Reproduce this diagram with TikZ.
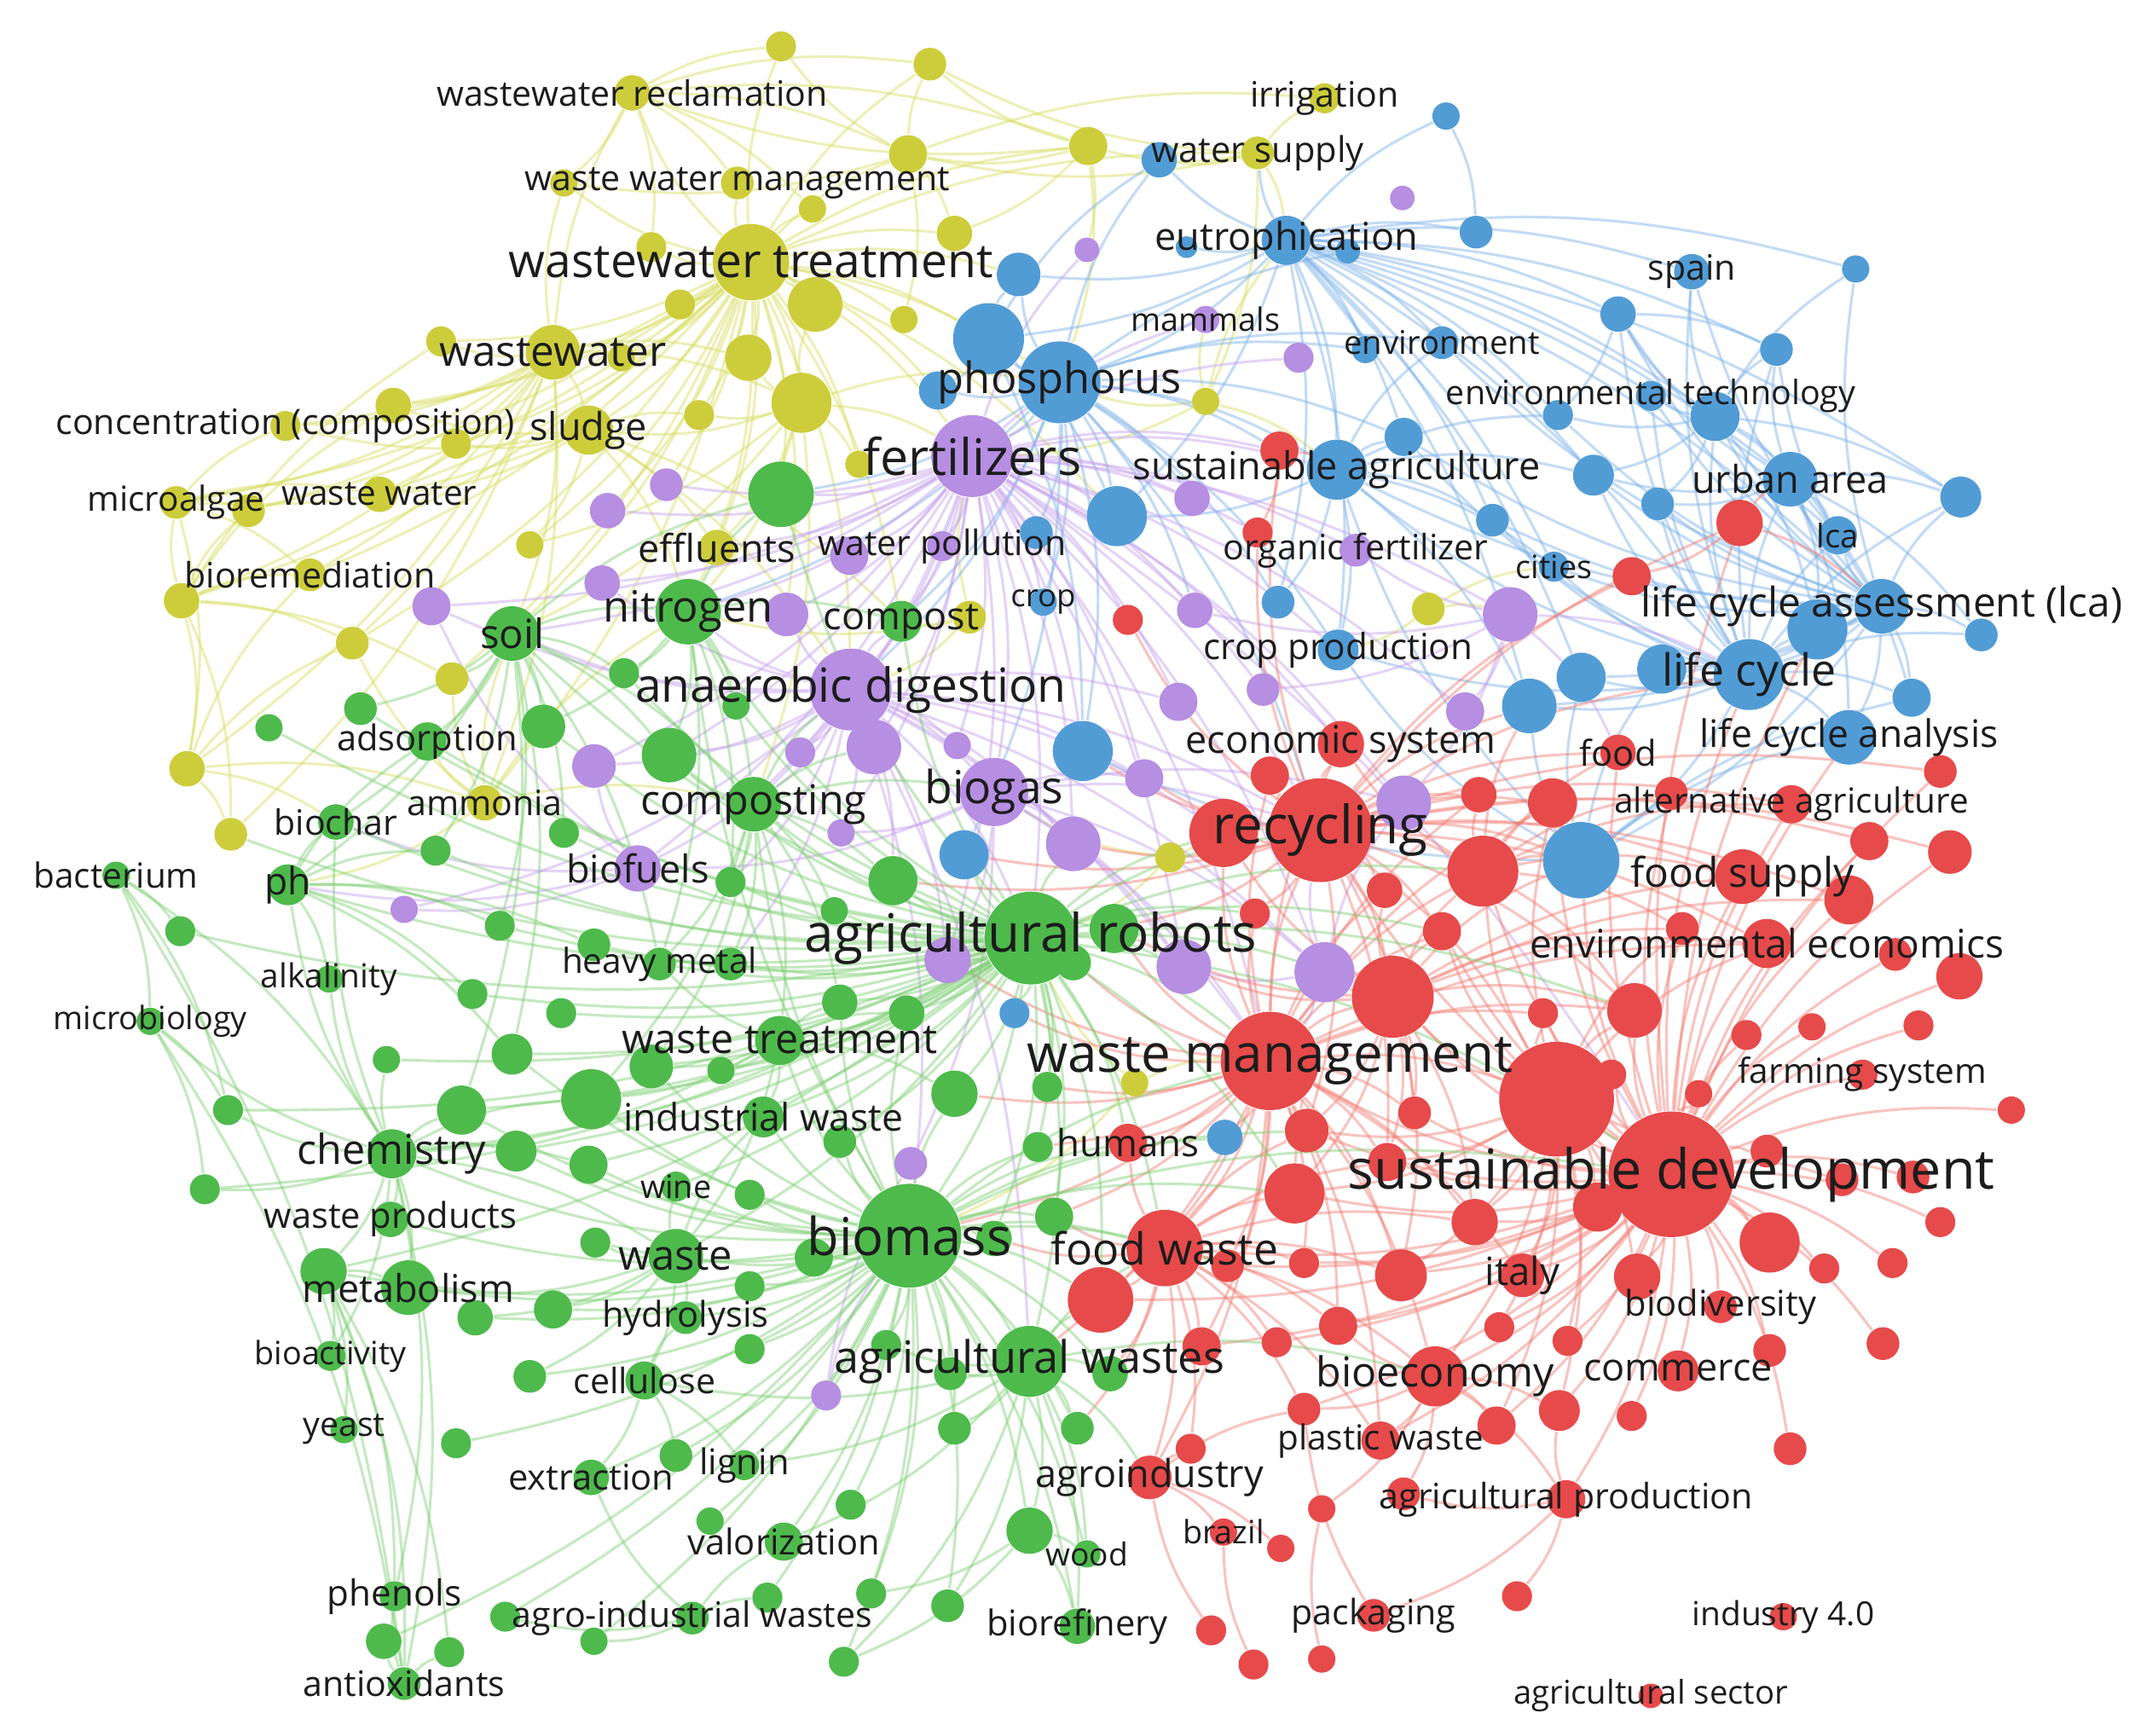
\documentclass[tikz,border=0pt]{standalone}
\usepackage{fontspec}
\setmainfont{Open Sans}
\usetikzlibrary{positioning}
\definecolor{ycol}{RGB}{205,205,60}
\definecolor{gcol}{RGB}{78,186,76}
\definecolor{bcol}{RGB}{82,156,214}
\definecolor{pcol}{RGB}{182,142,226}
\definecolor{rcol}{RGB}{231,74,74}
\definecolor{yedge}{RGB}{214,220,95}
\definecolor{gedge}{RGB}{125,206,115}
\definecolor{bedge}{RGB}{122,176,230}
\definecolor{pedge}{RGB}{196,160,236}
\definecolor{redge}{RGB}{240,122,112}
\definecolor{labcol}{RGB}{28,28,28}
\pgfdeclarelayer{edges}
\pgfdeclarelayer{labels}
\pgfsetlayers{edges,main,labels}
\tikzset{
yn/.style={circle, inner sep=0pt, fill=ycol, minimum size=#1*0.2mm}, % yellow cluster, #1 = radius
gn/.style={circle, inner sep=0pt, fill=gcol, minimum size=#1*0.2mm}, % green cluster
bn/.style={circle, inner sep=0pt, fill=bcol, minimum size=#1*0.2mm}, % blue cluster
pn/.style={circle, inner sep=0pt, fill=pcol, minimum size=#1*0.2mm}, % purple cluster
rn/.style={circle, inner sep=0pt, fill=rcol, minimum size=#1*0.2mm}, % red cluster
lab/.style={inner sep=0pt, text=labcol, font=\fontsize{#1}{#1}\selectfont}, % keyword text, #1 = size in pt
ye/.style={draw=yedge, line width=0.55pt, opacity=0.45, bend left=12}, % links
ge/.style={draw=gedge, line width=0.55pt, opacity=0.45, bend left=12},
be/.style={draw=bedge, line width=0.55pt, opacity=0.45, bend left=12},
pe/.style={draw=pedge, line width=0.55pt, opacity=0.45, bend left=12},
re/.style={draw=redge, line width=0.55pt, opacity=0.45, bend left=12},
}

\begin{document}
\begin{tikzpicture}
        \useasboundingbox (0,0) rectangle (15.68,-12.71);

        % yellow
        \node[yn=13] (wwrec) at (4.63,-0.68) {};
        \node[yn=12] (wwman) at (5.40,-1.34) {};
        \node[yn=28] (wwtr) at (5.50,-1.92) {};
        \node[yn=20] (ww) at (4.05,-2.58) {};
        \node[yn=11] (conc) at (2.09,-3.12) {};
        \node[yn=18] (sludge) at (4.31,-3.15) {};
        \node[yn=12] (micro) at (1.29,-3.68) {};
        \node[yn=13] (wwater) at (2.78,-3.62) {};
        \node[yn=12] (biorem) at (2.27,-4.21) {};
        \node[yn=13] (efflu) at (5.25,-4.01) {};
        \node[yn=13] (ammon) at (3.55,-5.88) {};
        \node[yn=11] (irrig) at (9.70,-0.72) {};
        \node[yn=12] (wsup) at (9.21,-1.12) {};
        \node[yn=11] (y1) at (5.72,-0.34) {};
        \node[yn=12] (y2) at (6.81,-0.47) {};
        \node[yn=10] (y3) at (4.13,-1.34) {};
        \node[yn=14] (y4) at (6.65,-1.13) {};
        \node[yn=14] (y5) at (7.97,-1.07) {};
        \node[yn=11] (y6) at (4.77,-1.81) {};
        \node[yn=10] (y7) at (5.95,-1.53) {};
        \node[yn=13] (y8) at (6.99,-1.71) {};
        \node[yn=11] (y9) at (4.98,-2.23) {};
        \node[yn=20] (y10) at (5.97,-2.23) {};
        \node[yn=10] (y11) at (6.62,-2.34) {};
        \node[yn=17] (y12) at (5.48,-2.62) {};
        \node[yn=22] (y13) at (5.87,-2.95) {};
        \node[yn=11] (y14) at (3.23,-2.50) {};
        \node[yn=10] (y15) at (4.55,-2.62) {};
        \node[yn=11] (y16) at (5.12,-3.04) {};
        \node[yn=13] (y17) at (2.88,-2.97) {};
        \node[yn=11] (y18) at (3.34,-3.25) {};
        \node[yn=12] (y19) at (1.82,-3.74) {};
        \node[yn=10] (y20) at (3.88,-3.99) {};
        \node[yn=10] (y21) at (6.29,-3.40) {};
        \node[yn=10] (y22) at (8.83,-2.94) {};
        \node[yn=13] (y23) at (1.33,-4.40) {};
        \node[yn=12] (y24) at (2.58,-4.71) {};
        \node[yn=12] (y25) at (3.31,-4.97) {};
        \node[yn=13] (y26) at (1.37,-5.63) {};
        \node[yn=12] (y27) at (1.69,-6.11) {};
        \node[yn=12] (y28) at (7.10,-4.52) {};
        \node[yn=11] (y29) at (8.57,-6.28) {};
        \node[yn=10] (y30) at (8.31,-7.93) {};
        \node[yn=12] (y31) at (10.46,-4.46) {};

        % green
        \node[gn=20] (soil) at (3.75,-4.64) {};
        \node[gn=24] (nitro) at (5.04,-4.48) {};
        \node[gn=15] (compost) at (6.60,-4.55) {};
        \node[gn=14] (adsorp) at (3.13,-5.43) {};
        \node[gn=13] (biochar) at (2.46,-6.02) {};
        \node[gn=20] (compo) at (5.52,-5.89) {};
        \node[gn=10] (bact) at (0.85,-6.41) {};
        \node[gn=15] (ph) at (2.11,-6.48) {};
        \node[gn=12] (heavy) at (4.83,-7.06) {};
        \node[gn=10] (alkal) at (2.41,-7.17) {};
        \node[gn=34] (agrob) at (7.55,-6.87) {};
        \node[gn=10] (microb) at (1.10,-7.48) {};
        \node[gn=18] (wtreat) at (5.71,-7.62) {};
        \node[gn=15] (indw) at (5.59,-8.18) {};
        \node[gn=18] (chem) at (2.87,-8.45) {};
        \node[gn=11] (wine) at (4.95,-8.69) {};
        \node[gn=13] (wprod) at (2.86,-8.93) {};
        \node[gn=20] (waste) at (4.95,-9.20) {};
        \node[gn=38] (biomass) at (6.66,-9.05) {};
        \node[gn=20] (metab) at (2.99,-9.43) {};
        \node[gn=12] (hydro) at (5.02,-9.65) {};
        \node[gn=11] (bioact) at (2.42,-9.93) {};
        \node[gn=14] (cellu) at (4.72,-10.11) {};
        \node[gn=26] (agwaste) at (7.54,-9.97) {};
        \node[gn=10] (yeast) at (2.52,-10.47) {};
        \node[gn=13] (extract) at (4.33,-10.82) {};
        \node[gn=11] (lignin) at (5.45,-10.73) {};
        \node[gn=14] (valor) at (5.74,-11.29) {};
        \node[gn=11] (phenols) at (2.89,-11.69) {};
        \node[gn=12] (agroind) at (5.07,-11.85) {};
        \node[gn=12] (antiox) at (2.96,-12.33) {};
        \node[gn=13] (biorefin) at (7.89,-11.91) {};
        \node[gn=10] (wood) at (7.96,-11.38) {};
        \node[gn=24] (g1) at (5.72,-3.62) {};
        \node[gn=11] (g2) at (4.57,-4.93) {};
        \node[gn=12] (g3) at (2.64,-5.19) {};
        \node[gn=10] (g4) at (1.97,-5.33) {};
        \node[gn=16] (g5) at (3.98,-5.32) {};
        \node[gn=20] (g6) at (4.90,-5.53) {};
        \node[gn=11] (g7) at (4.13,-6.10) {};
        \node[gn=11] (g8) at (3.19,-6.23) {};
        \node[gn=11] (g9) at (3.66,-6.78) {};
        \node[gn=11] (g10) at (1.32,-6.82) {};
        \node[gn=12] (g11) at (4.35,-6.92) {};
        \node[gn=11] (g12) at (3.46,-7.28) {};
        \node[gn=11] (g13) at (4.11,-7.42) {};
        \node[gn=10] (g14) at (2.83,-7.76) {};
        \node[gn=15] (g15) at (3.75,-7.72) {};
        \node[gn=16] (g16) at (4.77,-7.81) {};
        \node[gn=11] (g17) at (1.67,-8.13) {};
        \node[gn=18] (g18) at (3.38,-8.13) {};
        \node[gn=22] (g19) at (4.33,-8.05) {};
        \node[gn=15] (g20) at (3.78,-8.43) {};
        \node[gn=14] (g21) at (4.31,-8.53) {};
        \node[gn=10] (g22) at (5.39,-5.17) {};
        \node[gn=18] (g23) at (6.54,-6.45) {};
        \node[gn=11] (g24) at (5.35,-6.46) {};
        \node[gn=10] (g25) at (6.11,-6.67) {};
        \node[gn=18] (g26) at (8.16,-6.80) {};
        \node[gn=13] (g27) at (7.86,-7.05) {};
        \node[gn=12] (g28) at (5.35,-7.06) {};
        \node[gn=13] (g29) at (6.15,-7.34) {};
        \node[gn=13] (g30) at (6.64,-7.42) {};
        \node[gn=10] (g31) at (5.28,-7.84) {};
        \node[gn=17] (g32) at (6.99,-8.01) {};
        \node[gn=11] (g33) at (7.67,-7.96) {};
        \node[gn=12] (g34) at (6.15,-8.36) {};
        \node[gn=11] (g35) at (7.60,-8.40) {};
        \node[gn=11] (g36) at (1.50,-8.71) {};
        \node[gn=11] (g37) at (4.36,-9.10) {};
        \node[gn=17] (g38) at (2.37,-9.31) {};
        \node[gn=13] (g39) at (3.48,-9.65) {};
        \node[gn=14] (g40) at (4.05,-9.59) {};
        \node[gn=12] (g41) at (3.88,-10.08) {};
        \node[gn=11] (g42) at (3.34,-10.57) {};
        \node[gn=12] (g43) at (4.95,-10.66) {};
        \node[gn=10] (g44) at (5.20,-11.14) {};
        \node[gn=11] (g45) at (3.70,-11.84) {};
        \node[gn=10] (g46) at (4.35,-12.02) {};
        \node[gn=13] (g47) at (2.81,-12.02) {};
        \node[gn=11] (g48) at (3.29,-12.10) {};
        \node[gn=11] (g49) at (5.49,-8.75) {};
        \node[gn=14] (g50) at (5.96,-9.21) {};
        \node[gn=14] (g51) at (7.72,-8.91) {};
        \node[gn=13] (g52) at (7.28,-9.07) {};
        \node[gn=11] (g53) at (5.49,-9.42) {};
        \node[gn=11] (g54) at (5.49,-9.88) {};
        \node[gn=11] (g55) at (6.49,-9.85) {};
        \node[gn=12] (g56) at (6.96,-10.06) {};
        \node[gn=13] (g57) at (8.13,-10.06) {};
        \node[gn=12] (g58) at (6.99,-10.46) {};
        \node[gn=12] (g59) at (7.89,-10.46) {};
        \node[gn=11] (g60) at (6.23,-11.02) {};
        \node[gn=17] (g61) at (7.54,-11.21) {};
        \node[gn=11] (g62) at (5.62,-11.70) {};
        \node[gn=11] (g63) at (6.38,-11.67) {};
        \node[gn=12] (g64) at (6.94,-11.76) {};
        \node[gn=11] (g65) at (6.18,-12.17) {};

        % purple
        \node[pn=30] (fert) at (7.12,-3.34) {};
        \node[pn=11] (wpoll) at (6.90,-4.00) {};
        \node[pn=30] (anaer) at (6.23,-5.05) {};
        \node[pn=25] (biogas) at (7.28,-5.80) {};
        \node[pn=17] (biofuel) at (4.67,-6.36) {};
        \node[pn=10] (mammals) at (8.83,-2.34) {};
        \node[pn=12] (orgfert) at (9.93,-4.03) {};
        \node[pn=9] (p1) at (10.27,-1.45) {};
        \node[pn=9] (p2) at (7.96,-1.83) {};
        \node[pn=11] (p3) at (9.51,-2.62) {};
        \node[pn=13] (p4) at (8.73,-3.65) {};
        \node[pn=12] (p5) at (4.88,-3.55) {};
        \node[pn=13] (p6) at (4.45,-3.74) {};
        \node[pn=13] (p7) at (4.41,-4.27) {};
        \node[pn=14] (p8) at (3.16,-4.44) {};
        \node[pn=16] (p9) at (4.35,-5.61) {};
        \node[pn=10] (p10) at (2.96,-6.66) {};
        \node[pn=16] (p11) at (5.76,-4.50) {};
        \node[pn=13] (p12) at (8.75,-4.47) {};
        \node[pn=14] (p13) at (8.63,-5.14) {};
        \node[pn=12] (p14) at (9.25,-5.05) {};
        \node[pn=20] (p15) at (6.40,-5.47) {};
        \node[pn=11] (p16) at (5.86,-5.51) {};
        \node[pn=10] (p17) at (7.01,-5.46) {};
        \node[pn=14] (p18) at (8.38,-5.70) {};
        \node[pn=10] (p19) at (6.16,-6.10) {};
        \node[pn=20] (p20) at (7.86,-6.18) {};
        \node[pn=20] (p21) at (10.28,-5.88) {};
        \node[pn=17] (p22) at (6.94,-7.03) {};
        \node[pn=20] (p23) at (8.67,-7.08) {};
        \node[pn=22] (p24) at (9.70,-7.12) {};
        \node[pn=12] (p25) at (6.67,-8.52) {};
        \node[pn=11] (p26) at (6.05,-10.22) {};
        \node[pn=20] (p27) at (11.06,-4.50) {};
        \node[pn=14] (p28) at (10.73,-5.21) {};
        \node[pn=14] (p29) at (6.22,-4.07) {};

        % blue
        \node[bn=18] (eutro) at (9.42,-1.76) {};
        \node[bn=30] (phos) at (7.76,-2.80) {};
        \node[bn=12] (envir) at (10.56,-2.51) {};
        \node[bn=13] (spain) at (12.39,-1.99) {};
        \node[bn=11] (envtech) at (12.09,-2.90) {};
        \node[bn=22] (sustag) at (9.79,-3.44) {};
        \node[bn=20] (urban) at (13.11,-3.51) {};
        \node[bn=14] (lca) at (13.46,-3.92) {};
        \node[bn=11] (cities) at (11.38,-4.15) {};
        \node[bn=20] (lcaa) at (13.78,-4.44) {};
        \node[bn=10] (crop) at (7.64,-4.41) {};
        \node[bn=15] (cropprod) at (9.80,-4.76) {};
        \node[bn=26] (lifec) at (12.81,-4.94) {};
        \node[bn=20] (lcan) at (13.54,-5.40) {};
        \node[bn=10] (b1) at (10.59,-0.85) {};
        \node[bn=13] (b2) at (8.49,-1.17) {};
        \node[bn=12] (b3) at (10.81,-1.70) {};
        \node[bn=16] (b4) at (7.46,-2.01) {};
        \node[bn=8] (b5) at (8.69,-1.81) {};
        \node[bn=9] (b6) at (9.87,-1.84) {};
        \node[bn=26] (b7) at (7.24,-2.48) {};
        \node[bn=14] (b8) at (6.87,-2.86) {};
        \node[bn=22] (b9) at (8.18,-3.78) {};
        \node[bn=14] (b10) at (10.28,-3.20) {};
        \node[bn=12] (b11) at (7.59,-3.90) {};
        \node[bn=10] (b12) at (13.59,-1.97) {};
        \node[bn=13] (b13) at (11.85,-2.30) {};
        \node[bn=12] (b14) at (13.01,-2.56) {};
        \node[bn=11] (b15) at (11.41,-3.04) {};
        \node[bn=18] (b16) at (12.56,-3.05) {};
        \node[bn=15] (b17) at (11.67,-3.48) {};
        \node[bn=12] (b18) at (12.14,-3.69) {};
        \node[bn=15] (b19) at (14.36,-3.64) {};
        \node[bn=12] (b20) at (10.93,-3.81) {};
        \node[bn=12] (b21) at (9.36,-4.41) {};
        \node[bn=22] (b22) at (13.31,-4.61) {};
        \node[bn=12] (b23) at (14.51,-4.65) {};
        \node[bn=18] (b24) at (12.17,-4.90) {};
        \node[bn=18] (b25) at (11.58,-4.96) {};
        \node[bn=20] (b26) at (11.20,-5.17) {};
        \node[bn=14] (b27) at (14.00,-5.11) {};
        \node[bn=22] (b28) at (7.93,-5.50) {};
        \node[bn=18] (b29) at (7.06,-6.26) {};
        \node[bn=28] (b30) at (11.58,-6.30) {};
        \node[bn=11] (b31) at (7.43,-7.42) {};
        \node[bn=13] (b32) at (8.97,-8.33) {};
        \node[bn=10] (b33) at (10.00,-2.56) {};

        % red
        \node[rn=38] (recyc) at (9.67,-6.08) {};
        \node[rn=17] (econsys) at (9.82,-5.45) {};
        \node[rn=13] (food) at (11.85,-5.51) {};
        \node[rn=14] (altag) at (13.12,-5.89) {};
        \node[rn=20] (foodsup) at (12.76,-6.42) {};
        \node[rn=18] (enveco) at (12.94,-6.91) {};
        \node[rn=36] (wasteman) at (9.30,-7.77) {};
        \node[rn=11] (farmsys) at (13.64,-7.87) {};
        \node[rn=14] (humans) at (8.26,-8.37) {};
        \node[rn=46] (susdev) at (12.24,-8.60) {};
        \node[rn=28] (foodw) at (8.53,-9.14) {};
        \node[rn=16] (italy) at (11.15,-9.34) {};
        \node[rn=12] (biodiv) at (12.60,-9.57) {};
        \node[rn=22] (bioeco) at (10.51,-10.08) {};
        \node[rn=15] (commerce) at (12.29,-10.04) {};
        \node[rn=14] (plastic) at (10.11,-10.55) {};
        \node[rn=16] (agroindu) at (8.42,-10.82) {};
        \node[rn=14] (agprod) at (11.47,-10.98) {};
        \node[rn=10] (brazil) at (8.96,-11.22) {};
        \node[rn=12] (packag) at (10.06,-11.83) {};
        \node[rn=10] (ind40) at (13.06,-11.84) {};
        \node[rn=9] (agsect) at (12.09,-12.42) {};
        \node[rn=14] (r1) at (9.37,-3.30) {};
        \node[rn=11] (r2) at (9.21,-3.90) {};
        \node[rn=11] (r3) at (8.26,-4.54) {};
        \node[rn=17] (r4) at (12.74,-3.83) {};
        \node[rn=14] (r5) at (11.95,-4.22) {};
        \node[rn=14] (r6) at (9.30,-5.68) {};
        \node[rn=25] (r7) at (8.96,-6.10) {};
        \node[rn=13] (r8) at (10.14,-6.52) {};
        \node[rn=11] (r9) at (9.19,-6.69) {};
        \node[rn=30] (r10) at (10.20,-7.30) {};
        \node[rn=16] (r11) at (9.57,-8.28) {};
        \node[rn=12] (r12) at (10.36,-8.15) {};
        \node[rn=14] (r13) at (10.16,-8.51) {};
        \node[rn=12] (r14) at (14.21,-5.65) {};
        \node[rn=13] (r15) at (10.83,-5.82) {};
        \node[rn=18] (r16) at (11.37,-5.88) {};
        \node[rn=12] (r17) at (12.24,-5.81) {};
        \node[rn=14] (r18) at (13.69,-6.16) {};
        \node[rn=16] (r19) at (14.28,-6.24) {};
        \node[rn=26] (r20) at (10.86,-6.38) {};
        \node[rn=18] (r21) at (13.54,-6.59) {};
        \node[rn=14] (r22) at (10.56,-6.82) {};
        \node[rn=12] (r23) at (12.32,-6.80) {};
        \node[rn=12] (r24) at (13.88,-6.99) {};
        \node[rn=17] (r25) at (14.35,-7.15) {};
        \node[rn=20] (r26) at (11.97,-7.40) {};
        \node[rn=11] (r27) at (11.30,-7.42) {};
        \node[rn=11] (r28) at (12.79,-7.58) {};
        \node[rn=10] (r29) at (13.27,-7.52) {};
        \node[rn=11] (r30) at (14.05,-7.51) {};
        \node[rn=11] (r31) at (11.80,-7.87) {};
        \node[rn=10] (r32) at (12.44,-8.01) {};
        \node[rn=10] (r33) at (14.73,-8.13) {};
        \node[rn=42] (r34) at (11.40,-8.05) {};
        \node[rn=12] (r35) at (12.94,-8.43) {};
        \node[rn=17] (r36) at (10.80,-8.95) {};
        \node[rn=18] (r37) at (11.70,-8.84) {};
        \node[rn=22] (r38) at (12.96,-9.10) {};
        \node[rn=12] (r39) at (13.49,-8.64) {};
        \node[rn=12] (r40) at (14.01,-8.62) {};
        \node[rn=11] (r41) at (14.21,-8.95) {};
        \node[rn=17] (r42) at (11.99,-9.35) {};
        \node[rn=11] (r43) at (13.36,-9.29) {};
        \node[rn=11] (r44) at (13.86,-9.25) {};
        \node[rn=11] (r45) at (10.98,-9.72) {};
        \node[rn=11] (r46) at (11.48,-9.82) {};
        \node[rn=12] (r47) at (12.96,-9.89) {};
        \node[rn=12] (r48) at (13.79,-9.84) {};
        \node[rn=14] (r49) at (10.96,-10.44) {};
        \node[rn=15] (r50) at (11.42,-10.33) {};
        \node[rn=11] (r51) at (11.95,-10.37) {};
        \node[rn=12] (r52) at (13.11,-10.61) {};
        \node[rn=11] (r53) at (11.11,-11.69) {};
        \node[rn=24] (r54) at (8.06,-9.52) {};
        \node[rn=22] (r55) at (9.48,-8.74) {};
        \node[rn=12] (r56) at (8.99,-9.27) {};
        \node[rn=11] (r57) at (9.55,-9.25) {};
        \node[rn=19] (r58) at (10.26,-9.34) {};
        \node[rn=14] (r59) at (8.80,-9.86) {};
        \node[rn=11] (r60) at (9.35,-9.83) {};
        \node[rn=14] (r61) at (9.80,-9.71) {};
        \node[rn=12] (r62) at (9.55,-10.32) {};
        \node[rn=11] (r63) at (8.72,-10.61) {};
        \node[rn=10] (r64) at (9.68,-11.05) {};
        \node[rn=12] (r65) at (10.28,-10.94) {};
        \node[rn=10] (r66) at (9.38,-11.34) {};
        \node[rn=11] (r67) at (8.87,-11.94) {};
        \node[rn=11] (r68) at (9.18,-12.19) {};
        \node[rn=10] (r69) at (9.68,-12.15) {};

        \begin{pgfonlayer}{edges}
        \draw[ye] (wwtr) edge (y1) edge (y2) edge (y3) edge (y4) edge (y6) edge (y7) edge (y8) edge (y9) edge (y10) edge (y11) edge (y12) edge (y13) edge (y14) edge (y15) edge (y16) edge (y17) edge (y18) edge (y19) edge (y20) edge (y21) edge (wwrec) edge (wwman) edge (ww) edge (sludge) edge (conc) edge (micro) edge (wwater) edge (biorem) edge (efflu) edge (y23) edge (y24) edge (y25) edge (ammon) edge (y5) edge (wsup) edge (phos) edge (fert) edge (nitro) edge (soil) edge (g1) edge (b7) edge (b4);
        \draw[ye] (wwtr) edge (anaer) edge (compost) edge (p5) edge (p6) edge (p11) edge (b8) edge (b9);
        \draw[ye] (ww) edge (micro) edge (conc) edge (wwater) edge (biorem) edge (y23) edge (y24) edge (y26) edge (y27) edge (y17) edge (y14) edge (sludge) edge (y3) edge (wwrec) edge (y12) edge (y13) edge (y19) edge (ammon) edge (soil);
        \draw[ye] (wwrec) edge (y1) edge (y2) edge (y3) edge (y4) edge (y6) edge (wwman) edge (y5) edge (y7);
        \draw[ye] (y13) edge (y10) edge (y12) edge (sludge) edge (efflu) edge (y16) edge (y20) edge (y21) edge (fert) edge (phos) edge (nitro) edge (compo) edge (soil);
        \draw[ye] (sludge) edge (conc) edge (wwater) edge (y18) edge (y20) edge (y16) edge (efflu) edge (nitro) edge (anaer) edge (compost) edge (micro) edge (y17);
        \draw[ye] (y23) edge (y26) edge (y27) edge (micro) edge (biorem) edge (y19) edge (y24) edge (y25) edge (y14) edge (y17);
        \draw[ye] (micro) edge (y19) edge (biorem) edge (wwater) edge (y26) edge (conc);
        \draw[ye] (y26) edge (y27) edge (biochar) edge (ammon) edge (y24) edge (biorem);
        \draw[ye] (wsup) edge (irrig) edge (y5) edge (b2) edge (eutro) edge (y22) edge (y4) edge (y2);
        \draw[ye] (y5) edge (y2) edge (y4) edge (wwrec) edge (y8) edge (p2) edge (phos);
        \draw[ye] (y4) edge (y2) edge (y1) edge (y8) edge (y11) edge (y3) edge (irrig);
        \draw[ye] (y22) edge (eutro) edge (phos) edge (sustag) edge (fert) edge (mammals);
        \draw[ye] (ammon) edge (y25) edge (y24) edge (soil) edge (nitro) edge (compo) edge (adsorp) edge (ph);
        \draw[ye] (y28) edge (compost) edge (anaer) edge (nitro) edge (fert);
        \draw[ye] (y31) edge (cities) edge (cropprod) edge (p27);
        \draw[ye] (y29) edge (recyc) edge (biogas) edge (agrob);
        \draw[ye] (y30) edge (wasteman) edge (agrob) edge (biomass);

        \draw[be] (eutro) edge (b1) edge (b2) edge (b3) edge (b5) edge (b6) edge (b4) edge (phos) edge (b7) edge (envir) edge (b33) edge (b13) edge (b15) edge (b10) edge (sustag) edge (lcaa) edge (lifec) edge (urban) edge (b16) edge (spain) edge (b12) edge (b14) edge (b17) edge (b20) edge (cities) edge (b9) edge (b21) edge (cropprod) edge (lca) edge (b19) edge (b25) edge (b26) edge (wsup);
        \draw[be] (lcaa) edge (spain) edge (b12) edge (b13) edge (b14) edge (envtech) edge (b16) edge (b17) edge (b18) edge (b19) edge (urban) edge (lca) edge (b23) edge (b24) edge (b25) edge (b26) edge (b27) edge (lcan) edge (cities) edge (b20) edge (b15) edge (b10) edge (sustag) edge (b22) edge (lifec) edge (b30) edge (envir);
        \draw[be] (lifec) edge (spain) edge (b13) edge (b14) edge (envtech) edge (b16) edge (b17) edge (b18) edge (urban) edge (lca) edge (b22) edge (b24) edge (b25) edge (b26) edge (b27) edge (lcan) edge (cities) edge (b20) edge (b30) edge (sustag) edge (cropprod) edge (b10) edge (b19) edge (b23);
        \draw[be] (b16) edge (spain) edge (b13) edge (b14) edge (b15) edge (envtech) edge (b17) edge (b18) edge (urban) edge (b19) edge (b22) edge (lca) edge (b12);
        \draw[be] (urban) edge (b14) edge (b19) edge (lca) edge (b22) edge (b27) edge (lcan) edge (b23) edge (b13) edge (b17) edge (b18);
        \draw[be] (phos) edge (b7) edge (b4) edge (b8) edge (b9) edge (b2) edge (sustag) edge (b28) edge (b29) edge (cropprod) edge (b21) edge (b11) edge (b10) edge (crop) edge (envir) edge (b33) edge (b6);
        \draw[be] (phos) edge (fert) edge (nitro) edge (anaer) edge (compost) edge (g1) edge (recyc) edge (r1) edge (p4) edge (p12);
        \draw[be] (b30) edge (lcan) edge (b26) edge (b25) edge (b24) edge (b27) edge (b28) edge (sustag) edge (cropprod);
        \draw[be] (sustag) edge (b10) edge (b9) edge (b21) edge (cropprod) edge (b20) edge (cities) edge (b15) edge (b17) edge (b26) edge (envir);
        \draw[be] (b7) edge (b4) edge (b8) edge (b9) edge (b28) edge (b2);
        \draw[be] (b1) edge (b3);
        \draw[be] (b13) edge (b15) edge (b14);

        \draw[pe] (fert) edge (anaer) edge (biogas) edge (p5) edge (p6) edge (p7) edge (p8) edge (p11) edge (p15) edge (p16) edge (p17) edge (p29) edge (wpoll) edge (efflu) edge (nitro) edge (compost) edge (orgfert) edge (mammals) edge (p2) edge (p3) edge (p4) edge (p12) edge (p13) edge (p14) edge (p18) edge (p20) edge (p23) edge (p24) edge (p27) edge (p28) edge (p21) edge (recyc) edge (susdev) edge (soil) edge (biofuel) edge (p9) edge (crop) edge (cropprod) edge (sustag);
        \draw[pe] (fert) edge (g1) edge (g6) edge (compo) edge (agrob) edge (wasteman) edge (r1) edge (r2) edge (r3) edge (econsys) edge (b9) edge (b28) edge (p19) edge (p22);
        \draw[pe] (anaer) edge (biogas) edge (p11) edge (p15) edge (p16) edge (p17) edge (p19) edge (p20) edge (compo) edge (biofuel) edge (nitro) edge (p9) edge (p7) edge (p22) edge (p13) edge (p18) edge (p23) edge (p24) edge (recyc) edge (agrob) edge (compost) edge (soil) edge (p8) edge (p10);
        \draw[pe] (anaer) edge (g6) edge (g23) edge (agwaste) edge (biomass) edge (wasteman) edge (r7) edge (g24) edge (g28);
        \draw[pe] (biogas) edge (p20) edge (p22) edge (p23) edge (p19) edge (p18) edge (biofuel) edge (p24) edge (p21) edge (recyc) edge (wasteman) edge (p25);
        \draw[pe] (biofuel) edge (p10) edge (p9) edge (p8) edge (ph) edge (biochar);
        \draw[pe] (p27) edge (p28) edge (p21) edge (orgfert) edge (p12) edge (p14) edge (lifec) edge (food);
        \draw[pe] (p24) edge (p21) edge (p23) edge (recyc) edge (wasteman);
        \draw[pe] (p26) edge (biomass) edge (p25);

        \draw[re] (susdev) edge (r34) edge (r10) edge (wasteman) edge (recyc) edge (r20) edge (r26) edge (r27) edge (r28) edge (r29) edge (r30) edge (r31) edge (r32) edge (r33) edge (r35) edge (r36) edge (r37) edge (r38) edge (r39) edge (r40) edge (r41) edge (r42) edge (r43) edge (r44) edge (r45) edge (r46) edge (r47) edge (r48) edge (r49) edge (r50) edge (r51) edge (r52) edge (italy) edge (biodiv) edge (bioeco) edge (commerce) edge (agprod) edge (plastic) edge (enveco) edge (foodsup) edge (farmsys) edge (r21) edge (r23) edge (r24) edge (r25) edge (r19) edge (r18) edge (foodw) edge (r55) edge (r58) edge (r13) edge (r12) edge (r11) edge (food) edge (altag) edge (r16) edge (r22);
        \draw[re] (susdev) edge (b30) edge (lcan) edge (lifec) edge (b22) edge (r54) edge (r56) edge (r57) edge (r59) edge (r60) edge (r61) edge (r62) edge (r14) edge (r17) edge (r4);
        \draw[re] (wasteman) edge (r10) edge (r11) edge (r12) edge (r13) edge (r7) edge (r8) edge (r9) edge (recyc) edge (foodw) edge (r54) edge (r55) edge (r56) edge (r57) edge (r58) edge (humans) edge (r20) edge (r22) edge (bioeco) edge (r34) edge (r26) edge (r36) edge (r59) edge (r61) edge (plastic) edge (agroindu) edge (italy) edge (r27) edge (enveco);
        \draw[re] (wasteman) edge (g26) edge (g27) edge (g32) edge (g33) edge (g35) edge (g51) edge (biomass) edge (agwaste) edge (p22) edge (b31) edge (b32) edge (r6) edge (econsys) edge (r15) edge (r16);
        \draw[re] (recyc) edge (r6) edge (r7) edge (r8) edge (r9) edge (r10) edge (econsys) edge (r15) edge (r16) edge (r20) edge (r22) edge (food) edge (altag) edge (foodsup) edge (enveco) edge (r1) edge (r2) edge (r3) edge (r5) edge (r4) edge (r34) edge (r21) edge (r19) edge (r18) edge (r14);
        \draw[re] (recyc) edge (p18) edge (p20) edge (b28) edge (b29) edge (g26) edge (g23) edge (r11) edge (r12) edge (r13) edge (r26) edge (b30) edge (b26) edge (lifec);
        \draw[re] (r10) edge (r7) edge (r8) edge (r20) edge (r22) edge (r26) edge (r11) edge (r12) edge (r13) edge (r36) edge (r55) edge (r58) edge (enveco) edge (foodsup) edge (r21) edge (r23) edge (b30) edge (g26) edge (p24) edge (p23);
        \draw[re] (r20) edge (r15) edge (r16) edge (food) edge (altag) edge (r17) edge (r23) edge (foodsup) edge (b30) edge (b26) edge (r26) edge (econsys);
        \draw[re] (r34) edge (r20) edge (r26) edge (r27) edge (r16) edge (r31) edge (r36) edge (r37) edge (r45) edge (r46) edge (r49) edge (r50) edge (bioeco) edge (italy) edge (r10) edge (r22) edge (r55) edge (r58) edge (r11) edge (r13) edge (r38) edge (r42) edge (enveco) edge (r23);
        \draw[re] (foodw) edge (r54) edge (r55) edge (r56) edge (r57) edge (r59) edge (r60) edge (r61) edge (r62) edge (r63) edge (agroindu) edge (humans) edge (r11) edge (g51) edge (g52) edge (g57) edge (g59) edge (r58) edge (r36) edge (r13) edge (bioeco) edge (plastic);
        \draw[re] (bioeco) edge (r61) edge (r62) edge (r64) edge (r65) edge (plastic) edge (agprod) edge (r49) edge (r50);
        \draw[re] (agprod) edge (r50) edge (r53) edge (packag) edge (r65);
        \draw[re] (packag) edge (r62);
        \draw[re] (agroindu) edge (r63) edge (brazil) edge (r66) edge (r62);
        \draw[re] (r67) edge (agroindu);
        \draw[re] (r68) edge (brazil);
        \draw[re] (r69) edge (r64);
        \draw[re] (r4) edge (r5) edge (urban) edge (lcaa);
        \draw[re] (r1) edge (sustag) edge (r2);

        \draw[ge] (agrob) edge (biomass) edge (agwaste) edge (compo) edge (nitro) edge (soil) edge (g1) edge (g6) edge (g23) edge (g24) edge (g25) edge (g26) edge (g27) edge (g28) edge (g29) edge (g30) edge (g31) edge (g32) edge (g33) edge (g34) edge (g35) edge (wtreat) edge (indw) edge (heavy) edge (compost) edge (g5) edge (g9) edge (g11) edge (g12) edge (g13) edge (g15) edge (g16) edge (g18) edge (g19) edge (g20) edge (g21) edge (chem) edge (waste) edge (wine) edge (g8) edge (g7) edge (adsorp) edge (biochar) edge (ph) edge (g3) edge (g2) edge (g22) edge (recyc) edge (wasteman) edge (susdev) edge (r10) edge (foodw) edge (g51) edge (g52);
        \draw[ge] (agrob) edge (r7) edge (r9) edge (r20) edge (r22) edge (r26) edge (r54) edge (p22) edge (p23) edge (p20) edge (b29) edge (b31) edge (g36) edge (g38) edge (g17) edge (g14) edge (g10) edge (g4) edge (y27) edge (humans) edge (r55);
        \draw[ge] (biomass) edge (agwaste) edge (g49) edge (g50) edge (g51) edge (g52) edge (g53) edge (g54) edge (g55) edge (g56) edge (g57) edge (g58) edge (g59) edge (waste) edge (wine) edge (hydro) edge (cellu) edge (lignin) edge (valor) edge (extract) edge (indw) edge (wtreat) edge (g16) edge (g19) edge (g21) edge (g34) edge (g35) edge (g32) edge (chem) edge (metab) edge (wprod) edge (g37) edge (g40) edge (g39) edge (compo) edge (nitro) edge (g61) edge (biorefin) edge (wood) edge (foodw) edge (r54) edge (wasteman) edge (susdev) edge (g63) edge (g65);
        \draw[ge] (biomass) edge (g41) edge (g42) edge (g43) edge (g44) edge (g45) edge (g46) edge (g47) edge (g60) edge (g62) edge (g64) edge (g38) edge (g18) edge (g20) edge (g15) edge (g29) edge (g30) edge (r55) edge (r56) edge (r11) edge (humans) edge (b32);
        \draw[ge] (agwaste) edge (g56) edge (g57) edge (g58) edge (g59) edge (g61) edge (wood) edge (biorefin) edge (g64) edge (g65) edge (valor) edge (lignin) edge (cellu) edge (g55) edge (foodw) edge (r54) edge (bioeco) edge (agroindu);
        \draw[ge] (compo) edge (g6) edge (g23) edge (g24) edge (g25) edge (g28) edge (g29) edge (g16) edge (g19) edge (anaer) edge (biogas) edge (p15) edge (heavy) edge (wtreat);
        \draw[ge] (wtreat) edge (g16) edge (g19) edge (g29) edge (g30) edge (g31) edge (g32) edge (indw) edge (waste) edge (heavy) edge (chem);
        \draw[ge] (chem) edge (microb) edge (metab) edge (wprod) edge (phenols) edge (antiox) edge (g36) edge (g17) edge (g14) edge (g18) edge (g19) edge (g20) edge (g21) edge (g38) edge (bioact) edge (alkal) edge (ph) edge (waste) edge (biochar);
        \draw[ge] (bact) edge (microb) edge (g10) edge (g17) edge (chem) edge (antiox);
        \draw[ge] (microb) edge (g17) edge (g36) edge (antiox);
        \draw[ge] (g38) edge (antiox) edge (phenols) edge (bioact) edge (yeast) edge (metab) edge (g48);
        \draw[ge] (antiox) edge (phenols) edge (g47) edge (g48);
        \draw[ge] (soil) edge (nitro) edge (g2) edge (g3) edge (g5) edge (g6) edge (adsorp) edge (biochar) edge (ph) edge (g8) edge (g9) edge (g7) edge (g15) edge (g18) edge (heavy) edge (g1) edge (compo) edge (y25);
        \draw[ge] (nitro) edge (g1) edge (g2) edge (g5) edge (g6) edge (g22) edge (compo) edge (compost) edge (g24) edge (heavy);
        \draw[ge] (ph) edge (adsorp) edge (biochar) edge (g8) edge (g9) edge (g11) edge (alkal) edge (g12) edge (g15);
        \draw[ge] (waste) edge (g37) edge (hydro) edge (cellu) edge (wine) edge (metab) edge (g41) edge (g40) edge (g39) edge (indw);
        \draw[ge] (cellu) edge (lignin) edge (g43) edge (extract) edge (hydro);
        \draw[ge] (g61) edge (g63) edge (g65) edge (wood) edge (biorefin);
        \draw[ge] (agroind) edge (g45) edge (g46) edge (g62) edge (valor) edge (extract);
        \end{pgfonlayer}

        \begin{pgfonlayer}{labels}
        \node[lab=7.3] (l-wwrec) at (wwrec) {wastewater reclamation};
        \node[lab=7.3] (l-wwman) at (wwman) {waste water management};
        \node[lab=9.8] (l-wwtr) at (wwtr) {wastewater treatment};
        \node[lab=8.8] (l-ww) at (ww) {wastewater};
        \node[lab=7.3] (l-conc) at (conc) {concentration (composition)};
        \node[lab=8] (l-sludge) at (sludge) {sludge};
        \node[lab=7.2] (l-micro) at (micro) {microalgae};
        \node[lab=7.2] (l-wwater) at (wwater) {waste water};
        \node[lab=7.3] (l-biorem) at (biorem) {bioremediation};
        \node[lab=8] (l-efflu) at (efflu) {effluents};
        \node[lab=7.3] (l-ammon) at (ammon) {ammonia};
        \node[lab=7.3] (l-irrig) at (irrig) {irrigation};
        \node[lab=7.4] (l-wsup) at (wsup) {water supply};
        \node[lab=8.4] (l-soil) at (soil) {soil};
        \node[lab=9] (l-nitro) at (nitro) {nitrogen};
        \node[lab=8] (l-compost) at (compost) {compost};
        \node[lab=7.4] (l-adsorp) at (adsorp) {adsorption};
        \node[lab=7.3] (l-biochar) at (biochar) {biochar};
        \node[lab=8.6] (l-compo) at (compo) {composting};
        \node[lab=7.2] (l-bact) at (bact) {bacterium};
        \node[lab=7.9] (l-ph) at (ph) {ph};
        \node[lab=7.2] (l-heavy) at (heavy) {heavy metal};
        \node[lab=6.9] (l-alkal) at (alkal) {alkalinity};
        \node[lab=11] (l-agrob) at (agrob) {agricultural robots};
        \node[lab=6.7] (l-microb) at (microb) {microbiology};
        \node[lab=8.6] (l-wtreat) at (wtreat) {waste treatment};
        \node[lab=7.9] (l-indw) at (indw) {industrial waste};
        \node[lab=8.6] (l-chem) at (chem) {chemistry};
        \node[lab=6.7] (l-wine) at (wine) {wine};
        \node[lab=7.4] (l-wprod) at (wprod) {waste products};
        \node[lab=8.7] (l-waste) at (waste) {waste};
        \node[lab=10.9] (l-biomass) at (biomass) {biomass};
        \node[lab=8] (l-metab) at (metab) {metabolism};
        \node[lab=7.4] (l-hydro) at (hydro) {hydrolysis};
        \node[lab=6.7] (l-bioact) at (bioact) {bioactivity};
        \node[lab=7.3] (l-cellu) at (cellu) {cellulose};
        \node[lab=9.3] (l-agwaste) at (agwaste) {agricultural wastes};
        \node[lab=7] (l-yeast) at (yeast) {yeast};
        \node[lab=7.4] (l-extract) at (extract) {extraction};
        \node[lab=7.4] (l-lignin) at (lignin) {lignin};
        \node[lab=7.4] (l-valor) at (valor) {valorization};
        \node[lab=7.5] (l-phenols) at (phenols) {phenols};
        \node[lab=7.3] (l-agroind) at (agroind) {agro-industrial wastes};
        \node[lab=7.3] (l-antiox) at (antiox) {antioxidants};
        \node[lab=7.4] (l-biorefin) at (biorefin) {biorefinery};
        \node[lab=6.6] (l-wood) at (wood) {wood};
        \node[lab=10.5] (l-fert) at (fert) {fertilizers};
        \node[lab=7.3] (l-wpoll) at (wpoll) {water pollution};
        \node[lab=9.8] (l-anaer) at (anaer) {anaerobic digestion};
        \node[lab=9.5] (l-biogas) at (biogas) {biogas};
        \node[lab=8] (l-biofuel) at (biofuel) {biofuels};
        \node[lab=6.7] (l-mammals) at (mammals) {mammals};
        \node[lab=7.3] (l-orgfert) at (orgfert) {organic fertilizer};
        \node[lab=8] (l-eutro) at (eutro) {eutrophication};
        \node[lab=9] (l-phos) at (phos) {phosphorus};
        \node[lab=6.8] (l-envir) at (envir) {environment};
        \node[lab=7.3] (l-spain) at (spain) {spain};
        \node[lab=7] (l-envtech) at (envtech) {environmental technology};
        \node[lab=8] (l-sustag) at (sustag) {sustainable agriculture};
        \node[lab=8] (l-urban) at (urban) {urban area};
        \node[lab=6.8] (l-lca) at (lca) {lca};
        \node[lab=6.7] (l-cities) at (cities) {cities};
        \node[lab=8.5] (l-lcaa) at (lcaa) {life cycle assessment (lca)};
        \node[lab=6.5] (l-crop) at (crop) {crop};
        \node[lab=7.5] (l-cropprod) at (cropprod) {crop production};
        \node[lab=9.2] (l-lifec) at (lifec) {life cycle};
        \node[lab=7.9] (l-lcan) at (lcan) {life cycle analysis};
        \node[lab=11] (l-recyc) at (recyc) {recycling};
        \node[lab=8] (l-econsys) at (econsys) {economic system};
        \node[lab=7.4] (l-food) at (food) {food};
        \node[lab=7.2] (l-altag) at (altag) {alternative agriculture};
        \node[lab=8.5] (l-foodsup) at (foodsup) {food supply};
        \node[lab=8.2] (l-enveco) at (enveco) {environmental economics};
        \node[lab=11] (l-wasteman) at (wasteman) {waste management};
        \node[lab=7.2] (l-farmsys) at (farmsys) {farming system};
        \node[lab=7.8] (l-humans) at (humans) {humans};
        \node[lab=11.5] (l-susdev) at (susdev) {sustainable development};
        \node[lab=9.2] (l-foodw) at (foodw) {food waste};
        \node[lab=8.1] (l-italy) at (italy) {italy};
        \node[lab=7.4] (l-biodiv) at (biodiv) {biodiversity};
        \node[lab=8.6] (l-bioeco) at (bioeco) {bioeconomy};
        \node[lab=8] (l-commerce) at (commerce) {commerce};
        \node[lab=7.2] (l-plastic) at (plastic) {plastic waste};
        \node[lab=8] (l-agroindu) at (agroindu) {agroindustry};
        \node[lab=7.3] (l-agprod) at (agprod) {agricultural production};
        \node[lab=6.7] (l-brazil) at (brazil) {brazil};
        \node[lab=7.3] (l-packag) at (packag) {packaging};
        \node[lab=6.9] (l-ind40) at (ind40) {industry 4.0};
        \node[lab=6.8] (l-agsect) at (agsect) {agricultural sector};
        \end{pgfonlayer}
\end{tikzpicture}
\end{document}
